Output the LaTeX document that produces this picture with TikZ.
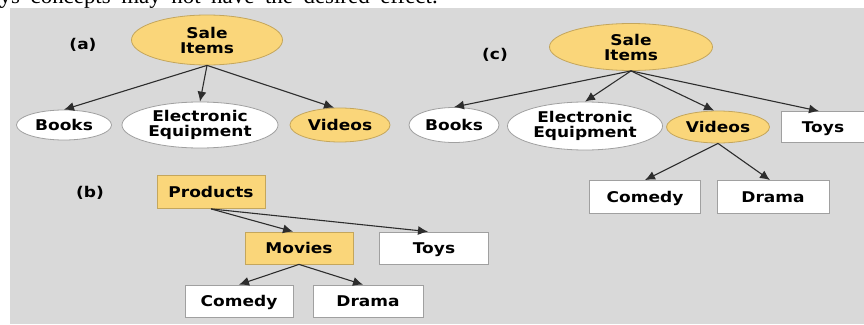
\documentclass[tikz,border=0pt]{standalone}
\usepackage{fontspec}
\usepackage{tikz}
\usetikzlibrary{shapes.geometric,arrows.meta}
\newfontfamily\boxfont[FakeStretch=1.15]{DejaVu Sans Bold}
\newfontfamily\pagefont{Liberation Serif}
\definecolor{panelgrey}{RGB}{217,217,217}
\definecolor{saleyellow}{RGB}{250,214,122}
\definecolor{yellowedge}{RGB}{196,166,92}
\definecolor{edgegrey}{RGB}{160,160,160}
\definecolor{linkgrey}{RGB}{45,45,45}

\begin{document}
\begin{tikzpicture}[x=1pt,y=-1pt,
    every node/.style={font=\boxfont\fontsize{14.8}{15}\selectfont, align=center, inner sep=0pt},
    oval/.style={ellipse, draw=edgegrey, fill=white, line width=0.8pt},
    hioval/.style={ellipse, draw=yellowedge, fill=saleyellow, line width=0.8pt},
    box/.style={rectangle, draw=edgegrey, fill=white, line width=0.8pt},
    hibox/.style={rectangle, draw=yellowedge, fill=saleyellow, line width=0.8pt},
    word/.style={text height=12.5pt, text depth=1pt},
    link/.style={-{Latex[length=10pt,width=9pt]}, draw=linkgrey, line width=1.1pt}]
            \useasboundingbox (0,0) rectangle (864,324);
            \clip (0,0) rectangle (864,324);
            \fill[panelgrey] (10,8) rectangle (864,324);
            \node[anchor=base west, font=\pagefont\fontsize{22.9}{24}\selectfont] (pageline) at (-0.5,4)
                {\makebox[438pt][s]{ys concepts may not have the desired effect.}};
            % (a)
            \node (tagA) at (83,45) {(a)};
            \node[hioval, minimum width=151pt, minimum height=50pt] (aSale) at (207,40) {Sale\\Items};
            \node[oval, word, minimum width=95pt, minimum height=30pt] (aBooks) at (64,125) {Books};
            \node[oval, minimum width=156pt, minimum height=46pt] (aElec) at (200,125) {Electronic\\Equipment};
            \node[hioval, word, minimum width=100pt, minimum height=34pt] (aVideos) at (340,125) {Videos};
            \draw[link] (aSale.south) -- (aBooks.north);
            \draw[link] (aSale.south) -- (aElec.north);
            \draw[link] (aSale.south) -- ([xshift=-6pt]aVideos.north);
            % (b)
            \node (tagB) at (90,193) {(b)};
            \node[hibox, word, minimum width=108pt, minimum height=33pt] (bProducts) at (211,192) {Products};
            \node[hibox, word, minimum width=108pt, minimum height=32pt] (bMovies) at (299,248) {Movies};
            \node[box, word, minimum width=109pt, minimum height=32pt] (bToys) at (434,248) {Toys};
            \node[box, word, minimum width=108pt, minimum height=32pt] (bComedy) at (239,301) {Comedy};
            \node[box, word, minimum width=110pt, minimum height=32pt] (bDrama) at (368,301) {Drama};
            \draw[link] (bProducts.south) -- ([xshift=-6pt]bMovies.north);
            \draw[link] (bProducts.south) -- ([xshift=-6pt]bToys.north);
            \draw[link] (bMovies.south) -- (bComedy.north);
            \draw[link] (bMovies.south) -- ([xshift=-5pt]bDrama.north);
            % (c)
            \node (tagC) at (495,55) {(c)};
            \node[hioval, minimum width=163pt, minimum height=47pt] (cSale) at (631,47) {Sale\\Items};
            \node[oval, word, minimum width=90pt, minimum height=35pt] (cBooks) at (454,125) {Books};
            \node[oval, minimum width=155pt, minimum height=48pt] (cElec) at (585,126) {Electronic\\Equipment};
            \node[hioval, word, minimum width=103pt, minimum height=32pt] (cVideos) at (718,127) {Videos};
            \node[box, word, minimum width=84pt, minimum height=31pt] (cToys) at (823,127) {Toys};
            \node[box, word, minimum width=111pt, minimum height=33pt] (cComedy) at (645,197) {Comedy};
            \node[box, word, minimum width=112pt, minimum height=33pt] (cDrama) at (773,197) {Drama};
            \draw[link] (cSale.south) -- (cBooks.north);
            \draw[link] (cSale.south) -- (cElec.north);
            \draw[link] (cSale.south) -- ([xshift=-4pt]cVideos.north);
            \draw[link] (cSale.south) -- ([xshift=-4pt]cToys.north);
            \draw[link] (cVideos.south) -- (cComedy.north);
            \draw[link] (cVideos.south) -- ([xshift=-3pt]cDrama.north);
        \end{tikzpicture}
\end{document}
